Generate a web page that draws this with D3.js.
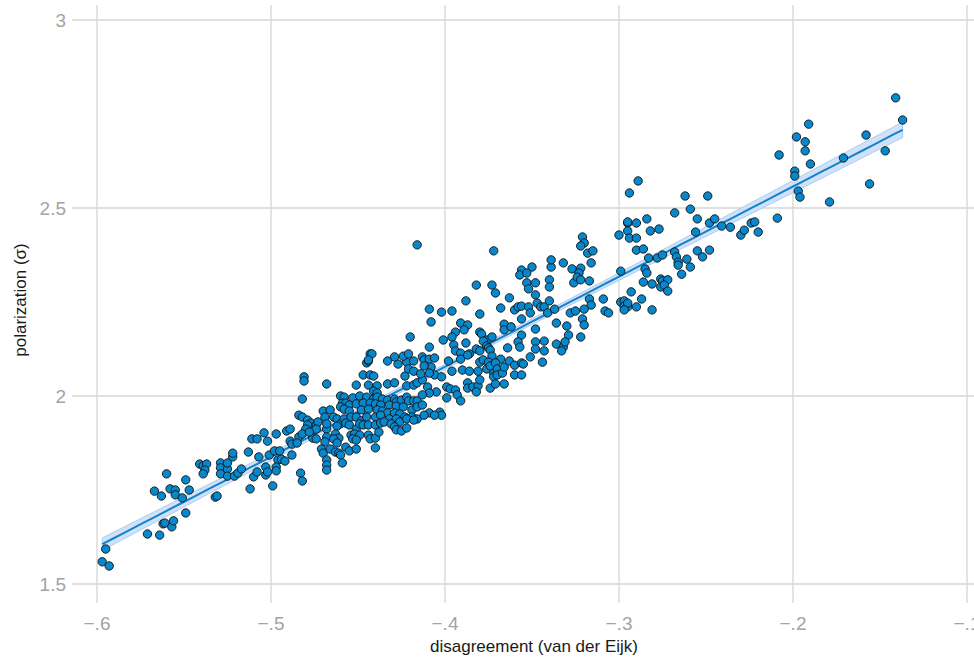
<!DOCTYPE html>
<html>
<head>
<meta charset="utf-8">
<script src="https://cdn.jsdelivr.net/npm/d3@7"></script>
<style>
  body { margin: 0; background: #fff; }
  svg { display: block; font-family: "Liberation Sans", Arial, sans-serif; }
</style>
</head>
<body>
<svg id="chart" width="974" height="660"></svg>
<script>
// scatter of polarization vs disagreement, with a linear fit and its 95% band

const xTicks = [-0.6, -0.5, -0.4, -0.3, -0.2, -0.1];
const yTicks = [1.5, 2, 2.5, 3];
const xTitle = 'disagreement (van der Eijk)';
const yTitle = 'polarization (σ)';

// [disagreement, polarization]
const points = [
  [-0.595,1.593],[-0.597,1.559],[-0.593,1.548],[-0.571,1.633],[-0.564,1.630],[-0.562,1.660],[-0.561,1.662],[-0.557,1.652],[-0.556,1.668],[-0.549,1.689],
  [-0.567,1.747],[-0.563,1.734],[-0.560,1.793],[-0.558,1.753],[-0.555,1.750],[-0.555,1.737],[-0.551,1.729],[-0.549,1.777],[-0.547,1.750],[-0.532,1.731],
  [-0.531,1.734],[-0.541,1.819],[-0.539,1.814],[-0.537,1.819],[-0.538,1.803],[-0.539,1.793],[-0.529,1.822],[-0.529,1.809],[-0.529,1.793],[-0.525,1.806],
  [-0.525,1.822],[-0.522,1.838],[-0.522,1.848],[-0.525,1.787],[-0.521,1.787],[-0.519,1.795],[-0.517,1.806],[-0.513,1.851],[-0.512,1.753],[-0.510,1.785],
  [-0.508,1.798],[-0.507,1.838],[-0.511,1.886],[-0.508,1.886],[-0.504,1.902],[-0.502,1.880],[-0.503,1.811],[-0.503,1.790],[-0.502,1.798],[-0.499,1.761],
  [-0.497,1.899],[-0.501,1.843],[-0.498,1.854],[-0.495,1.854],[-0.496,1.830],[-0.494,1.832],[-0.497,1.811],[-0.497,1.801],[-0.492,1.827],[-0.491,1.907],
  [-0.489,1.912],[-0.489,1.880],[-0.488,1.872],[-0.488,1.843],
  [-0.445,2.088],[-0.444,2.093],[-0.433,2.093],[-0.427,2.085],[-0.422,2.090],[-0.418,2.093],[-0.447,2.056],[-0.443,2.056],[-0.441,2.053],[-0.423,2.053],
  [-0.421,2.072],[-0.418,2.066],[-0.481,2.051],[-0.481,2.040],[-0.468,2.032],[-0.451,2.029],[-0.444,2.029],[-0.439,2.027],[-0.433,2.032],[-0.429,2.035],
  [-0.422,2.027],[-0.418,2.029],[-0.416,2.035],[-0.441,2.013],[-0.439,2.008],[-0.482,1.992],[-0.460,2.000],[-0.458,1.997],[-0.453,1.995],[-0.449,2.000],
  [-0.445,1.997],[-0.441,1.992],[-0.439,1.997],[-0.436,1.992],[-0.433,1.989],[-0.429,1.992],[-0.428,1.984],[-0.425,1.989],[-0.422,1.997],[-0.421,1.987],
  [-0.418,1.987],[-0.416,1.987],[-0.459,1.981],[-0.457,1.981],[-0.455,1.976],[-0.451,1.979],[-0.447,1.981],[-0.443,1.981],[-0.440,1.979],[-0.437,1.976],
  [-0.432,1.976],[-0.428,1.973],[-0.424,1.971],[-0.419,1.963],[-0.416,1.971],[-0.470,1.960],[-0.466,1.963],[-0.460,1.971],[-0.458,1.965],[-0.455,1.960],
  [-0.448,1.963],[-0.444,1.965],[-0.439,1.963],[-0.436,1.960],[-0.433,1.955],[-0.429,1.955],[-0.426,1.952],[-0.423,1.944],[-0.419,1.944],[-0.416,1.939],
  [-0.484,1.949],[-0.482,1.944],[-0.479,1.936],[-0.477,1.928],[-0.474,1.923],[-0.473,1.931],[-0.469,1.944],[-0.464,1.944],[-0.462,1.939],[-0.460,1.926],
  [-0.458,1.939],[-0.454,1.944],[-0.451,1.944],[-0.448,1.934],[-0.445,1.944],[-0.440,1.944],[-0.437,1.949],[-0.432,1.939],[-0.428,1.939],[-0.426,1.931],
  [-0.422,1.939],[-0.418,1.936],[-0.479,1.923],[-0.480,1.912],[-0.474,1.912],[-0.468,1.912],[-0.468,1.926],[-0.462,1.920],[-0.457,1.928],[-0.455,1.923],
  [-0.451,1.912],[-0.449,1.926],[-0.447,1.923],[-0.444,1.923],[-0.440,1.923],[-0.437,1.928],[-0.435,1.931],[-0.431,1.926],[-0.429,1.918],[-0.428,1.910],
  [-0.425,1.907],[-0.422,1.915],[-0.476,1.888],[-0.474,1.886],[-0.468,1.891],[-0.463,1.899],[-0.461,1.888],[-0.454,1.896],[-0.452,1.899],[-0.449,1.896],
  [-0.444,1.896],[-0.443,1.886],[-0.440,1.888],[-0.438,1.904],[-0.453,1.886],[-0.451,1.883],[-0.469,1.878],[-0.464,1.886],[-0.462,1.875],[-0.471,1.859],
  [-0.470,1.848],[-0.466,1.859],[-0.463,1.851],[-0.461,1.848],[-0.460,1.843],[-0.457,1.864],[-0.455,1.854],[-0.451,1.859],[-0.440,1.862],[-0.468,1.830],
  [-0.468,1.816],[-0.468,1.803],[-0.459,1.822],[-0.483,1.795],[-0.482,1.774],[-0.484,1.891],[-0.485,1.875],[-0.482,1.899],[-0.478,1.904],
  [-0.416,2.402],[-0.420,2.157],[-0.443,2.112],[-0.442,2.112],[-0.444,2.096],[-0.429,2.104],[-0.424,2.106],[-0.421,2.112],
  [-0.356,2.335],[-0.350,2.343],[-0.357,2.322],[-0.353,2.327],[-0.339,2.343],[-0.339,2.362],[-0.332,2.354],[-0.327,2.338],[-0.326,2.301],[-0.353,2.301],
  [-0.348,2.301],[-0.340,2.309],[-0.340,2.290],[-0.352,2.285],[-0.382,2.295],[-0.373,2.295],[-0.371,2.274],[-0.388,2.253],[-0.363,2.261],[-0.368,2.234],
  [-0.360,2.229],[-0.358,2.237],[-0.356,2.239],[-0.352,2.237],[-0.348,2.269],[-0.347,2.247],[-0.351,2.221],[-0.356,2.205],[-0.345,2.237],[-0.343,2.237],
  [-0.340,2.253],[-0.341,2.221],[-0.337,2.231],[-0.328,2.221],[-0.409,2.231],[-0.402,2.223],[-0.396,2.226],[-0.380,2.218],[-0.408,2.197],[-0.391,2.194],
  [-0.387,2.189],[-0.389,2.176],[-0.394,2.170],[-0.396,2.157],[-0.401,2.149],[-0.366,2.191],[-0.366,2.176],[-0.362,2.184],[-0.356,2.162],[-0.348,2.178],
  [-0.336,2.194],[-0.330,2.186],[-0.329,2.162],[-0.336,2.138],[-0.332,2.130],[-0.331,2.144],[-0.380,2.170],[-0.379,2.165],[-0.376,2.149],[-0.378,2.146],
  [-0.373,2.157],[-0.382,2.125],[-0.388,2.141],[-0.395,2.136],[-0.394,2.120],[-0.391,2.114],[-0.386,2.112],[-0.380,2.120],[-0.376,2.133],[-0.375,2.128],
  [-0.374,2.122],[-0.373,2.106],[-0.368,2.098],[-0.364,2.128],[-0.358,2.144],[-0.357,2.130],[-0.348,2.144],[-0.343,2.146],[-0.343,2.120],[-0.348,2.125],
  [-0.333,2.120],[-0.351,2.104],[-0.344,2.090],[-0.409,2.130],[-0.413,2.104],[-0.412,2.096],[-0.409,2.098],[-0.406,2.101],[-0.408,2.077],[-0.412,2.080],
  [-0.406,2.056],[-0.402,2.051],[-0.398,2.093],[-0.396,2.066],[-0.391,2.098],[-0.390,2.069],[-0.387,2.109],[-0.380,2.090],[-0.378,2.096],[-0.375,2.090],
  [-0.376,2.072],[-0.374,2.080],[-0.372,2.061],[-0.371,2.088],[-0.370,2.072],[-0.372,2.051],[-0.370,2.056],[-0.367,2.061],[-0.366,2.077],[-0.363,2.093],
  [-0.360,2.082],[-0.356,2.088],[-0.360,2.056],[-0.356,2.056],[-0.355,2.085],[-0.381,2.066],[-0.386,2.066],[-0.387,2.035],[-0.387,2.021],[-0.384,2.024],
  [-0.381,2.027],[-0.382,2.011],[-0.380,2.043],[-0.374,2.021],[-0.371,2.032],[-0.366,2.032],[-0.399,2.024],[-0.397,2.019],[-0.394,2.016],[-0.399,1.995],
  [-0.393,2.003],[-0.391,1.987],[-0.405,2.011],[-0.413,2.043],[-0.410,2.024],[-0.409,2.008],[-0.413,2.003],[-0.413,1.976],[-0.409,1.955],[-0.403,1.957],
  [-0.402,1.949],[-0.406,1.949],[-0.412,1.949],[-0.409,2.061],[-0.414,2.059],
  [-0.372,2.386],
  [-0.289,2.572],[-0.294,2.540],[-0.262,2.532],[-0.249,2.532],[-0.268,2.487],[-0.259,2.497],[-0.255,2.471],[-0.248,2.460],[-0.245,2.471],[-0.241,2.452],
  [-0.236,2.449],[-0.230,2.428],[-0.228,2.441],[-0.224,2.460],[-0.222,2.463],[-0.220,2.436],[-0.295,2.460],[-0.295,2.463],[-0.290,2.460],[-0.284,2.471],
  [-0.295,2.439],[-0.300,2.428],[-0.294,2.420],[-0.290,2.420],[-0.282,2.439],[-0.277,2.444],[-0.256,2.436],[-0.321,2.423],[-0.320,2.407],[-0.322,2.399],
  [-0.318,2.380],[-0.315,2.386],[-0.316,2.354],[-0.322,2.340],[-0.323,2.327],[-0.324,2.316],[-0.322,2.309],[-0.317,2.306],[-0.290,2.388],[-0.286,2.391],
  [-0.283,2.367],[-0.278,2.367],[-0.275,2.375],[-0.268,2.383],[-0.267,2.370],[-0.266,2.356],[-0.266,2.348],[-0.261,2.364],[-0.259,2.343],[-0.255,2.386],
  [-0.252,2.370],[-0.248,2.388],[-0.299,2.332],[-0.285,2.338],[-0.284,2.327],[-0.286,2.303],[-0.281,2.298],[-0.276,2.311],[-0.275,2.306],[-0.272,2.309],
  [-0.276,2.290],[-0.274,2.295],[-0.272,2.279],[-0.264,2.324],[-0.293,2.277],[-0.309,2.258],[-0.317,2.258],[-0.316,2.242],[-0.320,2.231],[-0.325,2.226],
  [-0.321,2.205],[-0.320,2.189],[-0.322,2.157],[-0.308,2.226],[-0.306,2.221],[-0.299,2.250],[-0.297,2.253],[-0.297,2.239],[-0.295,2.237],[-0.295,2.247],
  [-0.297,2.229],[-0.290,2.237],[-0.287,2.258],[-0.281,2.229],
  [-0.141,2.793],[-0.137,2.734],[-0.191,2.723],[-0.198,2.689],[-0.193,2.676],[-0.193,2.652],[-0.208,2.641],[-0.190,2.617],[-0.171,2.633],[-0.158,2.694],
  [-0.147,2.652],[-0.199,2.598],[-0.199,2.585],[-0.197,2.545],[-0.196,2.529],[-0.179,2.516],[-0.156,2.564],[-0.209,2.473]
];

const svg = d3.select('#chart');
const width = 974, height = 660;

const x = d3.scaleLinear().domain([-0.6, -0.1]).range([97, 967]);
const y = d3.scaleLinear().domain([1.5, 3]).range([584, 20]);

// panel edges (grid runs a bit past the data range, ggplot style)
const panelLeft = 72, panelTop = 5, panelBottom = 603;

const gridColor = '#d6d6d6';
const tickColor = '#a3a3a3';

const grid = svg.append('g');
grid.selectAll('line.h')
  .data(yTicks)
  .join('line')
    .attr('class', 'h')
    .attr('x1', panelLeft).attr('x2', width)
    .attr('y1', d => y(d)).attr('y2', d => y(d))
    .attr('stroke', gridColor)
    .attr('stroke-width', 1.3);
grid.selectAll('line.v')
  .data(xTicks)
  .join('line')
    .attr('class', 'v')
    .attr('x1', d => x(d)).attr('x2', d => x(d))
    .attr('y1', panelTop).attr('y2', panelBottom)
    .attr('stroke', gridColor)
    .attr('stroke-width', 1.3);

// tick labels
const fmtX = d => (d < 0 ? '\u2212' : '') + d3.format('.1f')(Math.abs(d)).replace(/^0/, '');
svg.append('g').selectAll('text')
  .data(xTicks)
  .join('text')
    .attr('x', d => x(d))
    .attr('y', 630)
    .attr('text-anchor', 'middle')
    .attr('font-size', 19)
    .attr('fill', tickColor)
    .text(fmtX);
svg.append('g').selectAll('text')
  .data(yTicks)
  .join('text')
    .attr('x', 66)
    .attr('y', d => y(d) + 7)
    .attr('text-anchor', 'end')
    .attr('font-size', 19)
    .attr('fill', tickColor)
    .text(d => String(d));

// linear fit with 95% confidence band
const n = points.length;
const mx = d3.mean(points, d => d[0]);
const my = d3.mean(points, d => d[1]);
const sxx = d3.sum(points, d => (d[0] - mx) ** 2);
const sxy = d3.sum(points, d => (d[0] - mx) * (d[1] - my));
const slope = sxy / sxx;
const icpt = my - slope * mx;
const rss = d3.sum(points, d => (d[1] - icpt - slope * d[0]) ** 2);
const s = Math.sqrt(rss / (n - 2));
const tq = 1.965;
const [xmin, xmax] = d3.extent(points, d => d[0]);
const fitX = d3.range(0, 81).map(i => xmin + (xmax - xmin) * i / 80);
const fit = fitX.map(v => {
  const se = s * Math.sqrt(1 / n + (v - mx) ** 2 / sxx);
  const f = icpt + slope * v;
  return {x: v, f, lo: f - tq * se, hi: f + tq * se};
});

svg.append('path')
  .datum(fit)
  .attr('d', d3.area().x(d => x(d.x)).y0(d => y(d.lo)).y1(d => y(d.hi)))
  .attr('fill', '#cfe2f8')
  .attr('stroke', '#a8cdf3')
  .attr('stroke-width', 1);

svg.append('path')
  .datum(fit)
  .attr('d', d3.line().x(d => x(d.x)).y(d => y(d.f)))
  .attr('fill', 'none')
  .attr('stroke', '#1581cc')
  .attr('stroke-width', 2);

// points
svg.append('g').selectAll('circle')
  .data(points)
  .join('circle')
    .attr('cx', d => x(d[0]))
    .attr('cy', d => y(d[1]))
    .attr('r', 4.2)
    .attr('fill', '#0787cc')
    .attr('stroke', '#111')
    .attr('stroke-width', 0.9);

// axis titles
svg.append('text')
  .attr('x', 534)
  .attr('y', 652)
  .attr('text-anchor', 'middle')
  .attr('font-size', 17)
  .attr('fill', '#1a1a1a')
  .text(xTitle);
svg.append('text')
  .attr('transform', 'translate(26,300) rotate(-90)')
  .attr('text-anchor', 'middle')
  .attr('font-size', 17)
  .attr('fill', '#1a1a1a')
  .text(yTitle);
</script>
</body>
</html>
